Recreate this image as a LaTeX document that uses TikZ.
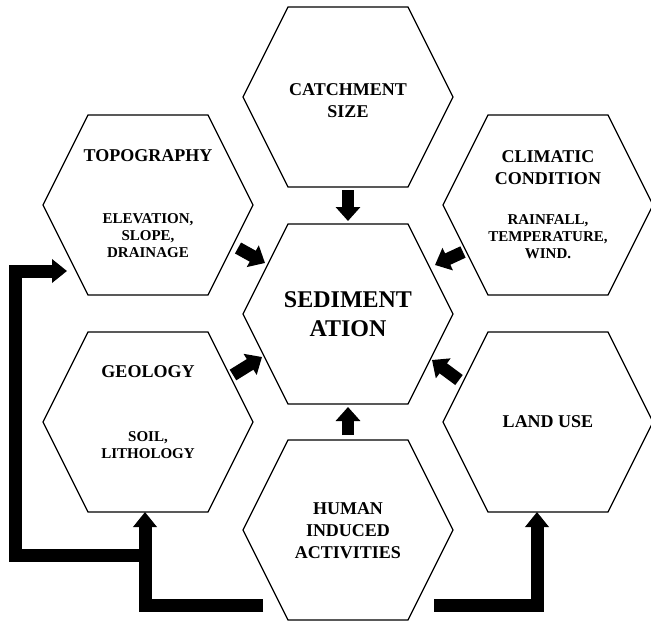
\documentclass[tikz,border=0pt]{standalone}
\usepackage{fontspec}
\setmainfont{Liberation Serif}
\usetikzlibrary{arrows.meta,calc}
\begin{document}
\begin{tikzpicture}[x=1pt,y=-1pt,
  hexnode/.style={minimum width=210pt,minimum height=180pt,inner sep=0pt,outer sep=0pt},
  hexline/.style={draw=black,line width=1.2pt,line join=miter},
  ttl/.style={font=\bfseries\fontsize{18}{22}\selectfont,align=center,inner sep=0pt},
  subt/.style={font=\bfseries\fontsize{15}{17}\selectfont,align=center,inner sep=0pt},
  bigt/.style={font=\bfseries\fontsize{24}{28.5}\selectfont,align=center,inner sep=0pt},
  blk/.style={line width=12.5pt,-{Triangle[width=24pt,length=14pt]}},
  bigarrow/.style={line width=13pt,line join=miter,-{Triangle[width=23pt,length=15pt]}}
]
\useasboundingbox (0,0) rectangle (651,621);
\clip (0,0) rectangle (651,621);
% hexagon frames
\node[hexnode] (cat)  at (348,97)  {};
\node[hexnode] (topo) at (148,205) {};
\node[hexnode] (clim) at (548,205) {};
\node[hexnode] (sed)  at (348,314) {};
\node[hexnode] (geo)  at (148,422) {};
\node[hexnode] (luse) at (548,422) {};
\node[hexnode] (hum)  at (348,530) {};
\foreach \n in {cat,topo,clim,sed,geo,luse,hum}{
  \draw[hexline] (\n.west) -- ([xshift=45pt]\n.north west) -- ([xshift=-45pt]\n.north east)
    -- (\n.east) -- ([xshift=-45pt]\n.south east) -- ([xshift=45pt]\n.south west) -- cycle;
}
% texts
\node[ttl]  (catT)  at (348,100.5) {CATCHMENT\\SIZE};
\node[ttl]  (topoT) at (148,156)   {TOPOGRAPHY};
\node[subt] (topoS) at (148,235.5) {ELEVATION,\\SLOPE,\\DRAINAGE};
\node[ttl]  (climT) at (548,167.5) {CLIMATIC\\CONDITION};
\node[subt] (climS) at (548,237)   {RAINFALL,\\TEMPERATURE,\\WIND.};
\node[bigt] (sedT)  at (348,314)   {SEDIMENT\\ATION};
\node[ttl]  (geoT)  at (148,372)   {GEOLOGY};
\node[subt] (geoS)  at (148,445.5) {SOIL,\\LITHOLOGY};
\node[ttl]  (luseT) at (548,422)   {LAND USE};
\node[ttl]  (humT)  at (348,531)   {HUMAN\\INDUCED\\ACTIVITIES};
% small block arrows into SEDIMENTATION
\draw[blk] ([yshift=-3pt]cat.south) -- ([yshift=3pt]sed.north);
\draw[blk] ([yshift=5pt]hum.north) -- ([yshift=-3pt]sed.south);
\draw[blk] ($(topo)+(90,43)$) -- ($(sed)+(-83,-51)$);
\draw[blk] ($(clim)+(-85,47)$) -- ($(sed)+(87,-49)$);
\draw[blk] ($(geo)+(85,-47)$) -- ($(sed)+(-86,43)$);
\draw[blk] ($(luse)+(-89,-42)$) -- ($(sed)+(84,46)$);
% big L-shaped arrows from HUMAN INDUCED ACTIVITIES
\coordinate (s1) at ($(hum.south west)+(20,-15)$);
\coordinate (g1) at ([xshift=-3pt]geo.south);
\coordinate (j1) at ($(g1)+(0,43)$);
\coordinate (t1) at ($(topo)+(-81,66)$);
\coordinate (s2) at ($(hum.south east)+(-19,-15)$);
\coordinate (r1) at ([xshift=-11pt]luse.south);
\draw[bigarrow] (s1) -| (g1);
\draw[bigarrow] (j1) -- ++(-130,0) |- (t1);
\draw[bigarrow] (s2) -| (r1);
\end{tikzpicture}
\end{document}
